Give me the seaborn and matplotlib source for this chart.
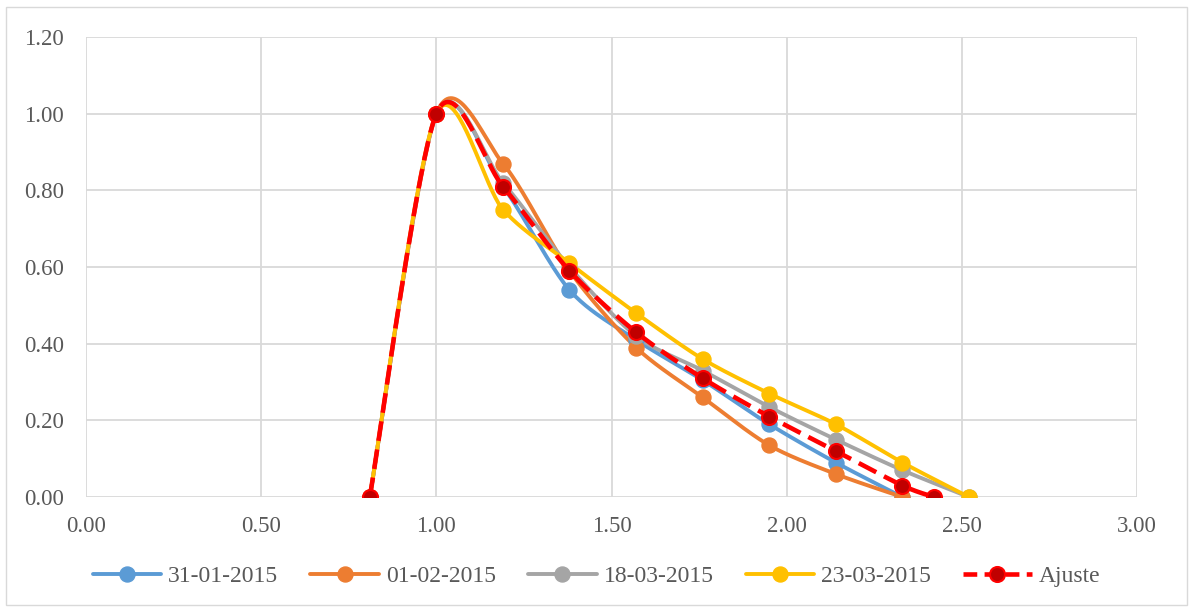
import numpy as np
import pandas as pd
import matplotlib
matplotlib.use("Agg")
import matplotlib.pyplot as plt
from matplotlib.lines import Line2D
from matplotlib.patches import Rectangle
import seaborn as sns

# ---- data ----
x_common = [0.81, 1.00, 1.19, 1.38, 1.57, 1.76, 1.95, 2.14, 2.33]
x_long = [0.81, 1.00, 1.19, 1.38, 1.57, 1.76, 1.95, 2.14, 2.33, 2.52]
x_fit = [0.81, 1.00, 1.19, 1.38, 1.57, 1.76, 1.95, 2.14, 2.33, 2.42]

y_3101 = [0.0, 1.00, 0.81, 0.54, 0.41, 0.305, 0.19, 0.09, 0.0]
y_0102 = [0.0, 1.00, 0.87, 0.59, 0.39, 0.26, 0.135, 0.06, 0.0]
y_1803 = [0.0, 1.00, 0.82, 0.60, 0.42, 0.33, 0.235, 0.15, 0.07, 0.0]
y_2303 = [0.0, 1.00, 0.75, 0.61, 0.48, 0.36, 0.27, 0.19, 0.09, 0.0]
y_fit = [0.0, 1.00, 0.81, 0.59, 0.43, 0.31, 0.21, 0.12, 0.03, 0.0]

labels = ["31-01-2015", "01-02-2015", "18-03-2015", "23-03-2015", "Ajuste"]
x_ticks = [0.0, 0.5, 1.0, 1.5, 2.0, 2.5, 3.0]
y_ticks = [0.0, 0.2, 0.4, 0.6, 0.8, 1.0, 1.2]

series = [
    (labels[0], x_common, y_3101, "#5B9BD5"),
    (labels[1], x_common, y_0102, "#ED7D31"),
    (labels[2], x_long, y_1803, "#A5A5A5"),
    (labels[3], x_long, y_2303, "#FFC000"),
]


def excel_smooth(xs, ys, n=40, k=7.0):
    """Bezier smoothing similar to a spreadsheet smoothed line."""
    P = np.column_stack([xs, ys]).astype(float)
    m = len(P)
    out = [P[0]]
    t = np.linspace(0, 1, n)[1:]
    for i in range(m - 1):
        p0 = P[i - 1] if i > 0 else P[i]
        p1 = P[i]
        p2 = P[i + 1]
        p3 = P[i + 2] if i + 2 < m else P[i + 1]
        c1 = p1 + (p2 - p0) / k
        c2 = p2 - (p3 - p1) / k
        seg = ((1 - t) ** 3)[:, None] * p1 + (3 * (1 - t) ** 2 * t)[:, None] * c1 \
            + (3 * (1 - t) * t ** 2)[:, None] * c2 + (t ** 3)[:, None] * p2
        out.extend(seg)
    out = np.array(out)
    return out[:, 0], out[:, 1]


sns.set_theme(style="white")
plt.rcParams["font.family"] = ["Liberation Serif", "DejaVu Serif"]

fig = plt.figure(figsize=(11.93, 6.09), dpi=100)
ax = fig.add_axes([0.0721, 0.1839, 0.8810, 0.7553])

lw = 2.8
ms = 10.8
handles = []
for name, xs, ys, col in series:
    sx, sy = excel_smooth(xs, ys)
    df = pd.DataFrame({"x": sx, "y": sy})
    sns.lineplot(data=df, x="x", y="y", sort=False, estimator=None, ax=ax,
                 color=col, linewidth=lw, zorder=3)
    ax.plot(xs, ys, linestyle="none", marker="o", markersize=ms,
            color=col, markeredgecolor=col, zorder=4)
    handles.append(Line2D([], [], color=col, linewidth=lw, marker="o",
                          markersize=ms, markeredgecolor=col))

red_dash = [4.3, 1.9]
sx, sy = excel_smooth(x_fit, y_fit)
df = pd.DataFrame({"x": sx, "y": sy})
sns.lineplot(data=df, x="x", y="y", sort=False, estimator=None, ax=ax,
             color="#FF0000", linewidth=3.3, zorder=5)
ax.lines[-1].set_dashes(red_dash)
ax.plot(x_fit, y_fit, linestyle="none", marker="o", markersize=ms,
        color="#C00000", markeredgecolor="#FF0000", markeredgewidth=1.5, zorder=6)
handles.append(Line2D([], [], color="#FF0000", linewidth=3.3, dashes=[3.0, 1.6],
                      marker="o", markersize=ms, markerfacecolor="#C00000",
                      markeredgecolor="#FF0000", markeredgewidth=1.5))

ax.set_xlim(0, 3)
ax.set_ylim(0, 1.2)
ax.set_xticks(x_ticks)
ax.set_yticks(y_ticks)
ax.set_xticklabels([f"{v:.2f}" for v in x_ticks])
ax.set_yticklabels([f"{v:.2f}" for v in y_ticks])
ax.set_xlabel("")
ax.set_ylabel("")
ax.grid(True, color="#D9D9D9", linewidth=1.3)
ax.set_axisbelow(True)
for s in ax.spines.values():
    s.set_visible(False)
ax.tick_params(axis="both", length=0, labelsize=16.5, labelcolor="#595959")
ax.tick_params(axis="x", pad=14)
ax.tick_params(axis="y", pad=16)

leg = fig.legend(handles, labels, loc="center", bbox_to_anchor=(0.5, 0.053),
                 ncol=5, frameon=False, fontsize=17, handlelength=2.9,
                 columnspacing=1.36, handletextpad=0.3)
for t in leg.get_texts():
    t.set_color("#595959")

fig.patches.append(Rectangle((0.005, 0.006), 0.99, 0.982, transform=fig.transFigure,
                             fill=False, edgecolor="#D9D9D9", linewidth=1.0))

fig.savefig("out.png", dpi=100, facecolor="white")
